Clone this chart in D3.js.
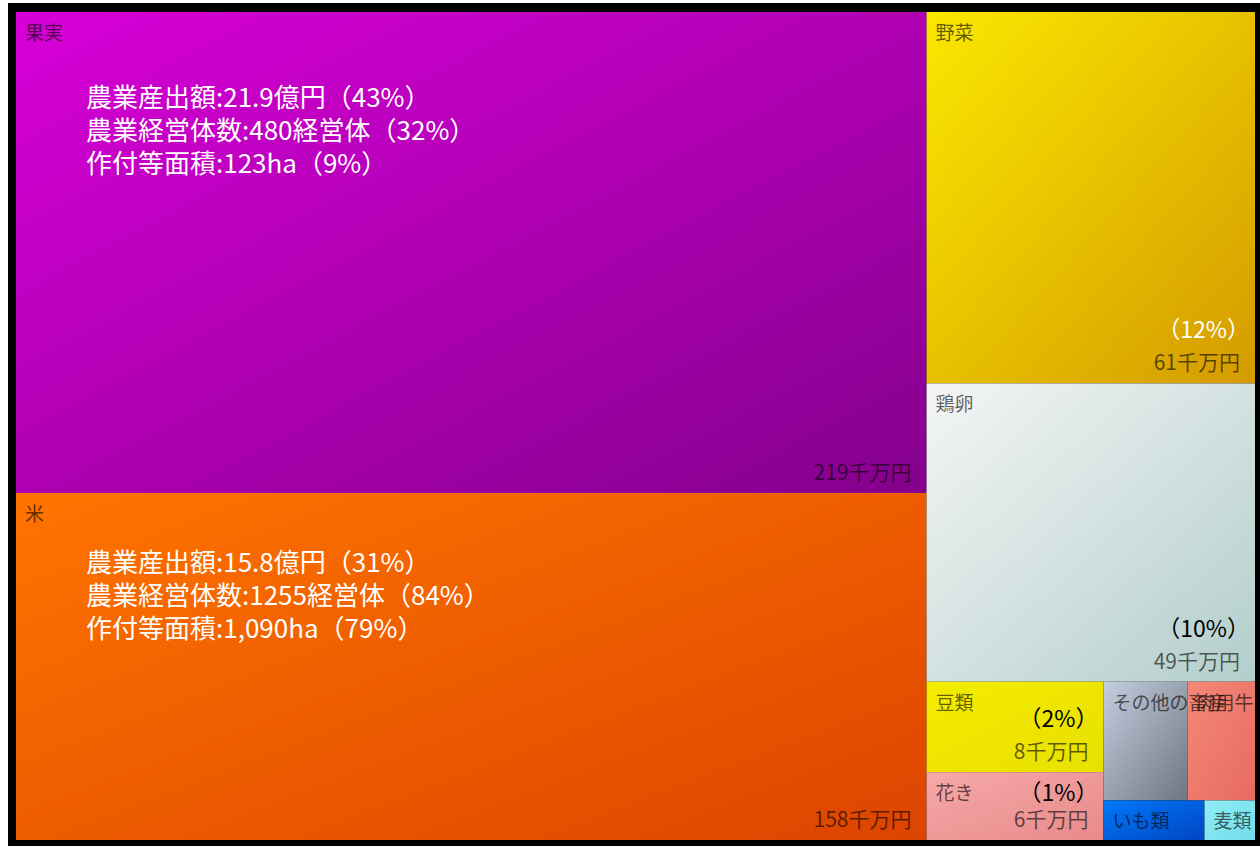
<!DOCTYPE html>
<html>
<head>
<meta charset="utf-8">
<script src="https://cdn.jsdelivr.net/npm/d3@7"></script>
<style>
  body { margin: 0; background: #fff; }
  svg text { font-family: "Noto Sans CJK JP", "Noto Sans", sans-serif; }
</style>
</head>
<body>
<div id="chart"></div>
<script>
//data (千万円)
var categories = ["果実", "米", "野菜", "鶏卵", "豆類", "花き", "その他の畜産", "肉用牛", "いも類", "麦類"];
var values = [219, 158, 61, 49, 8, 6, 5, 4, 2, 1];
var valueLabels = ["219千万円", "158千万円", "61千万円", "49千万円", "8千万円", "6千万円", "", "", "", ""];
var shareLabels = ["", "", "（12%）", "（10%）", "（2%）", "（1%）", "", "", "", ""];
var fruitNotes = ["農業産出額:21.9億円（43%）", "農業経営体数:480経営体（32%）", "作付等面積:123ha（9%）"];
var riceNotes = ["農業産出額:15.8億円（31%）", "農業経営体数:1255経営体（84%）", "作付等面積:1,090ha（79%）"];

//gradient colours per tile (top-left, bottom-right)
var colorFrom = ["#d800d8", "#ff7400", "#fae800", "#f4f5f5", "#f4ec00", "#f6a8a8", "#c4cee0", "#f48878", "#0078f8", "#90eef6"];
var colorTo = ["#84008c", "#dc4400", "#d49a00", "#b2cecb", "#e8e000", "#e88a8a", "#6e7680", "#e86a60", "#0046c4", "#70dce8"];
var shareColor = ["#fff", "#fff", "#fff", "#000", "#000", "#000"];

var width = 1260, height = 846;
var x0 = 16, y0 = 12, w = 1239, h = 828;

var svg = d3.select("#chart").append("svg")
  .attr("width", width)
  .attr("height", height);

//black frame
svg.append("rect")
  .attr("x", 8).attr("y", 3)
  .attr("width", width - 8).attr("height", height - 3)
  .attr("fill", "#000");

var defs = svg.append("defs");
categories.forEach(function(c, i) {
  var gr = defs.append("linearGradient")
    .attr("id", "grad" + i)
    .attr("x1", "0%").attr("y1", "0%")
    .attr("x2", "100%").attr("y2", "100%");
  gr.append("stop").attr("offset", "0%").attr("stop-color", colorFrom[i]);
  gr.append("stop").attr("offset", "100%").attr("stop-color", colorTo[i]);
});

//build hierarchy and lay out with the squarify treemap
var root = d3.hierarchy({
  children: categories.map(function(c, i) { return { name: c, value: values[i], idx: i }; })
}).sum(function(d) { return d.value || 0; })
  .sort(function(a, b) { return b.value - a.value; });

d3.treemap()
  .size([w, h])
  .tile(d3.treemapSquarify)(root);

var leaves = root.leaves();
var g = svg.append("g").attr("transform", "translate(" + x0 + "," + y0 + ")");

//tiles first, so labels of narrow tiles may run over neighbours
g.append("g").selectAll("rect")
  .data(leaves)
  .enter()
  .append("rect")
  .attr("x", function(d) { return d.x0; })
  .attr("y", function(d) { return d.y0; })
  .attr("width", function(d) { return d.x1 - d.x0; })
  .attr("height", function(d) { return d.y1 - d.y0; })
  .attr("fill", function(d) { return "url(#grad" + d.data.idx + ")"; });

var labels = g.append("g");

//category names
labels.selectAll("text.name")
  .data(leaves)
  .enter()
  .append("text")
  .attr("class", "name")
  .attr("x", function(d) { return d.x0 + 9; })
  .attr("y", function(d) { return d.y0 + 28; })
  .attr("font-size", 19)
  .attr("fill", "#000")
  .attr("fill-opacity", 0.62)
  .text(function(d) { return d.data.name; });

//value labels bottom-right
labels.selectAll("text.value")
  .data(leaves)
  .enter()
  .append("text")
  .attr("class", "value")
  .attr("x", function(d) { return d.x1 - 15; })
  .attr("y", function(d) { return d.y1 - 13; })
  .attr("text-anchor", "end")
  .attr("font-size", 21)
  .attr("fill", "#000")
  .attr("fill-opacity", 0.6)
  .text(function(d) { return valueLabels[d.data.idx]; });

//share labels
labels.selectAll("text.share")
  .data(leaves)
  .enter()
  .append("text")
  .attr("class", "share")
  .attr("x", function(d) { return d.x1 - 5; })
  .attr("y", function(d) { return Math.max(d.y1 - 45, d.y0 + 29); })
  .attr("text-anchor", "end")
  .attr("font-size", 23)
  .attr("fill", function(d) { return shareColor[d.data.idx] || "#000"; })
  .text(function(d) { return shareLabels[d.data.idx]; });

//annotations on the two big tiles
function notes(idx, lines, dy) {
  var d = leaves.filter(function(n) { return n.data.idx === idx; })[0];
  labels.append("g").selectAll("text")
    .data(lines)
    .enter()
    .append("text")
    .attr("x", d.x0 + 70)
    .attr("y", function(t, i) { return d.y0 + dy + i * 33; })
    .attr("font-size", 26)
    .attr("fill", "#fff")
    .text(function(t) { return t; });
}
notes(0, fruitNotes, 95);
notes(1, riceNotes, 79);
</script>
</body>
</html>
